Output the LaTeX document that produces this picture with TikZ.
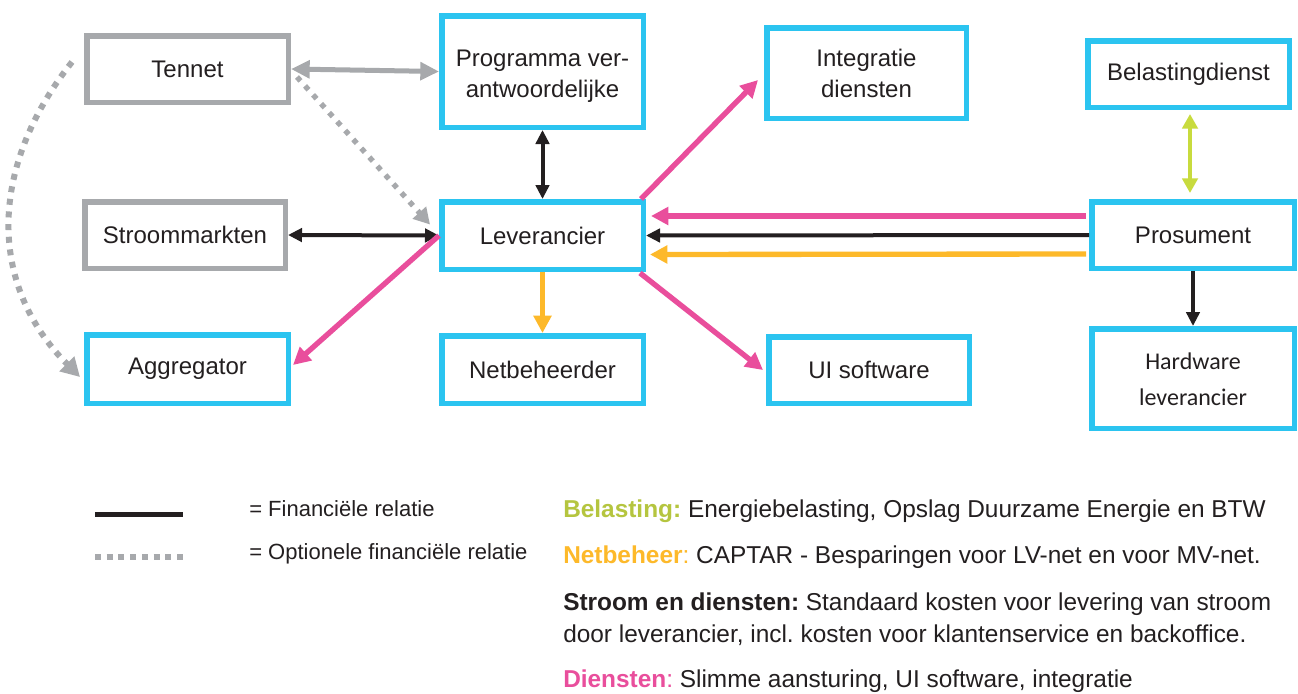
\documentclass[tikz,border=0pt]{standalone}
\usepackage{fontspec}
\setmainfont{Liberation Sans}
\newfontfamily\calfont{Carlito}
\usetikzlibrary{arrows.meta,calc}
\definecolor{boxblue}{HTML}{2BC4F0}
\definecolor{boxgray}{HTML}{A7A9AC}
\definecolor{arrblack}{HTML}{231F20}
\definecolor{txt}{HTML}{231F20}
\definecolor{pinkc}{HTML}{E94E9C}
\definecolor{orangec}{HTML}{FDB92A}
\definecolor{greenc}{HTML}{C8DB3E}
\definecolor{greentxt}{HTML}{B5C53F}
\frenchspacing
\tikzset{
  box/.style={draw=boxblue,line width=4.125pt,fill=white,inner sep=0pt,align=center,
    text=txt,font=\fontsize{18}{23.25}\selectfont},
  graybox/.style={box,draw=boxgray},
  wh/.style 2 args={minimum width={(#1-5.5)*0.75pt},minimum height={(#2-5.5)*0.75pt}},
  blkone/.style={draw=arrblack,line width=3pt,-{Triangle[length=10.5pt,width=10pt]}},
  blktwo/.style={draw=arrblack,line width=3pt,{Triangle[length=10.5pt,width=10pt]}-{Triangle[length=10.5pt,width=10pt]}},
  pinkone/.style={draw=pinkc,line width=4pt,-{Triangle[length=13pt,width=13pt]}},
  orangeone/.style={draw=orangec,line width=4pt,-{Triangle[length=13pt,width=13pt]}},
  greentwo/.style={draw=greenc,line width=3.5pt,{Triangle[length=11pt,width=11.5pt]}-{Triangle[length=11pt,width=11.5pt]}},
  graytwo/.style={draw=boxgray,line width=3.75pt,{Triangle[length=14pt,width=13pt]}-{Triangle[length=14pt,width=13pt]}},
  graydot/.style={draw=boxgray,line width=4pt,dash pattern=on 3.9pt off 5.1pt,-{Triangle[length=12pt,width=13pt]}},
  graydotbig/.style={draw=boxgray,line width=4.5pt,dash pattern=on 4.5pt off 5pt,-{Triangle[length=14pt,width=15pt]}},
  legtxt/.style={anchor=base west,inner sep=0pt,text=txt,font=\fontsize{16.5}{20}\selectfont},
  bodytxt/.style={anchor=base west,inner sep=0pt,text=txt,font=\fontsize{18.3}{22}\selectfont},
}
\begin{document}
\begin{tikzpicture}[x=0.75pt,y=-0.75pt]
\useasboundingbox[fill=white] (0,0) rectangle (1298,693);

% nodes
\node[graybox,wh={207}{72}] (ten) at (187.5,69) {Tennet};
\node[graybox,wh={206}{72}] (strm) at (185,235) {Stroommarkten};
\node[box,wh={207}{74}] (agg) at (187.5,369) {Aggregator};
\node[box,wh={207}{117}] (prog) at (542.5,71.5) {\raisebox{-7.5pt}[0pt][0pt]{\begin{tabular}{@{}c@{}}Programma ver-\\antwoordelijke\end{tabular}}};
\node[box,wh={207}{73}] (lev) at (542.5,235.5) {Leverancier};
\node[box,wh={207}{73}] (net) at (542.5,369.5) {Netbeheerder};
\node[box,wh={205}{96}] (integ) at (866.5,73) {Integratie\\diensten};
\node[box,wh={206}{72}] (ui) at (869,370) {UI software};
\node[box,wh={207}{72}] (bel) at (1188.5,74) {Belastingdienst};
\node[box,wh={208}{72}] (pros) at (1193,235) {Prosument};
\node[box,wh={208}{105},font=\calfont\fontsize{18}{27}\selectfont] (hw) at (1193,378.5) {\raisebox{-6pt}[0pt][0pt]{\begin{tabular}{@{}c@{}}Hardware\\leverancier\end{tabular}}};

% connectors
\draw[graytwo] (ten.east) -- (prog.west);
\draw[graydot] ($(ten.east)+(6,8)$) -- ($(lev.west)+(-9,-11)$);
\draw[graydotbig] ($(ten.west)+(-12,-7)$) .. controls (-12,168) and (-12,285) .. ($(agg.west)+(-4,8)$);
\draw[blktwo] (prog.south) -- (lev.north);
\draw[blktwo] (strm.east) -- (lev.west);
\draw[pinkone] (lev.west) -- ($(agg.east)+(2,-4)$);
\draw[pinkone] ($(lev.north east)+(-5,0)$) -- ($(integ.west)+(-6,7)$);
\draw[pinkone] ($(lev.south east)+(-6,1)$) -- ($(ui.west)+(-3,0)$);
\draw[orangeone] (lev.south) -- (net.north);
\draw[pinkone] ($(pros.west)+(-3,-19)$) -- ($(lev.east)+(5,-19.5)$);
\draw[blkone] (pros.west) -- (lev.east);
\draw[orangeone] ($(pros.west)+(-3,19)$) -- ($(lev.east)+(4,19)$);
\draw[greentwo] ($(bel.south)+(1.5,4)$) -- ($(pros.north)+(-3,-6)$);
\draw[blkone] (pros.south) -- (hw.north);

% legend
\draw[arrblack,line width=3.75pt] (95,514) -- (183,514);
\draw[boxgray,line width=4pt,dash pattern=on 4.5pt off 4.3pt] (95,557) -- (183,557);
\node[legtxt] (l1) at (249,516) {= Financiële relatie};
\node[legtxt] (l2) at (249,559) {= Optionele financiële relatie};

\node[bodytxt] (t1) at (563,517) {\textcolor{greentxt}{\bfseries Belasting:} Energiebelasting, Opslag Duurzame Energie en BTW};
\node[bodytxt] (t2) at (563,563) {\textcolor{orangec}{\bfseries Netbeheer}\textcolor{orangec}{:} CAPTAR - Besparingen voor LV-net en voor MV-net.};
\node[bodytxt] (t3) at (563,610) {\textbf{Stroom en diensten:} Standaard kosten voor levering van stroom};
\node[bodytxt] (t4) at (563,642) {door leverancier, incl. kosten voor klantenservice en backoffice.};
\node[bodytxt] (t5) at (563,687) {\textcolor{pinkc}{\bfseries Diensten}\textcolor{pinkc}{:} Slimme aansturing, UI software, integratie};
\end{tikzpicture}
\end{document}
